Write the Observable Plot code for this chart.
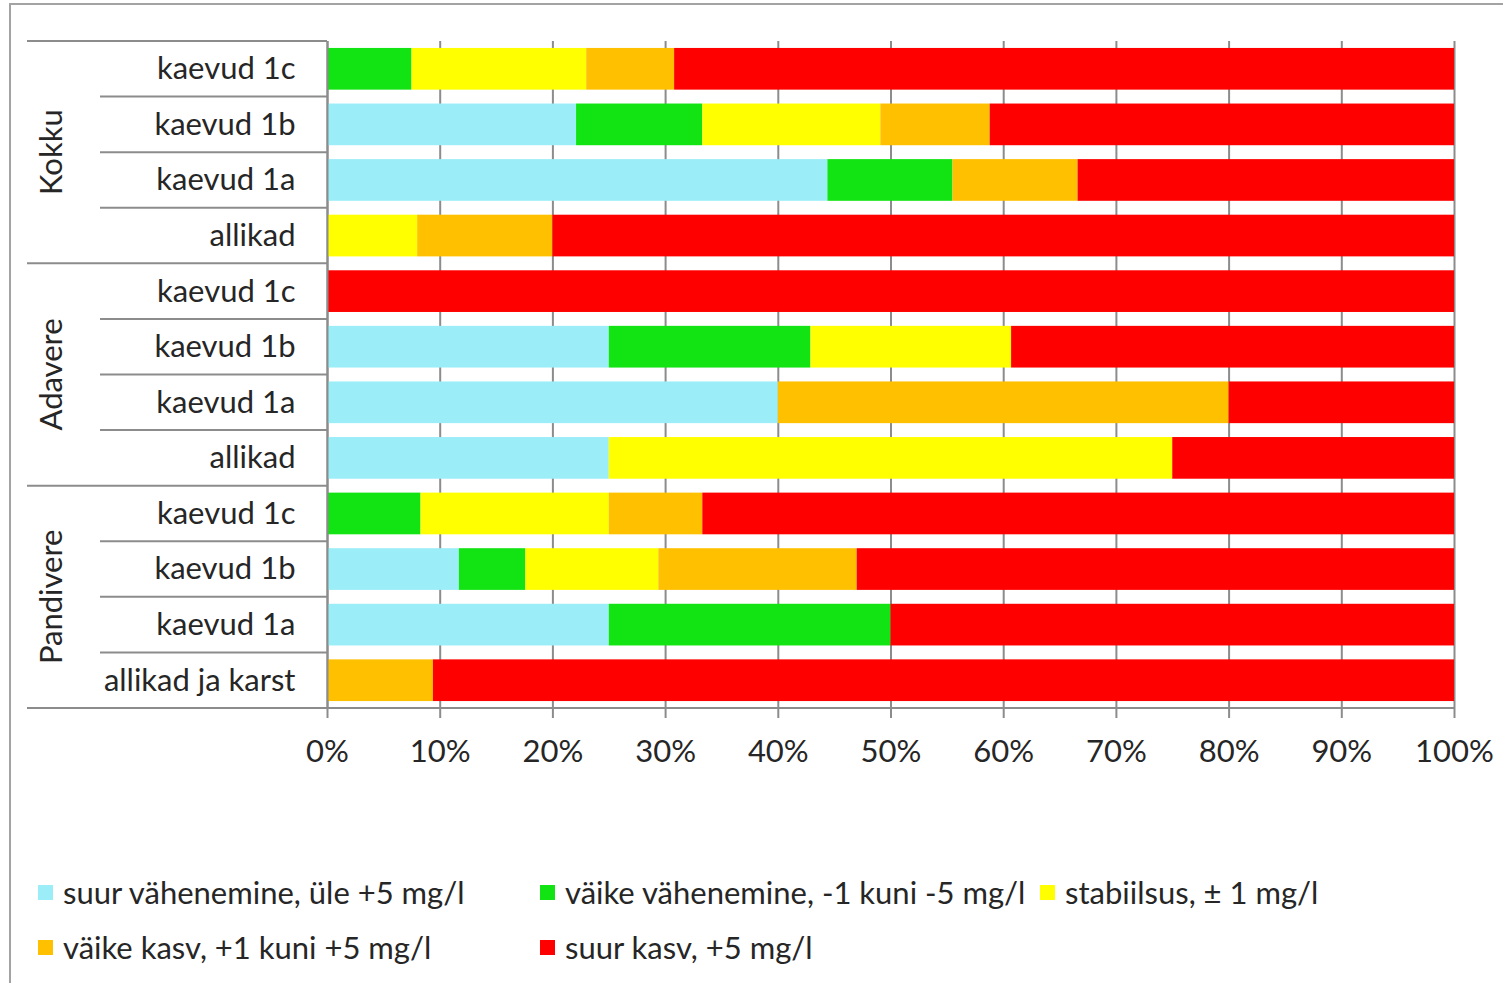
<!DOCTYPE html>
<html>
<head>
<meta charset="utf-8">
<script src="https://cdn.jsdelivr.net/npm/d3@7"></script>
<script src="https://cdn.jsdelivr.net/npm/@observablehq/plot@0.6"></script>
<style>
  html, body { margin: 0; padding: 0; background: #fff; }
  #page { position: relative; width: 1503px; height: 983px; overflow: hidden; font-family: Lato, "Open Sans", sans-serif; color: #262626; }
  #frame { position: absolute; left: 9px; top: 3px; right: -10px; bottom: -10px; border-left: 2px solid #a3a3a3; border-top: 2px solid #a3a3a3; }
  #chart { position: absolute; left: 0; top: 0; }
  #legend { position: absolute; left: 38px; top: 875px; display: grid; grid-template-columns: 502px 500px auto; row-gap: 20px; }
  .item { display: flex; align-items: center; font-size: 31px; line-height: 35px; white-space: nowrap; }
  .sw { width: 15px; height: 15px; margin-right: 10px; flex: none; }
</style>
</head>
<body>
<div id="page">
  <div id="frame"></div>
  <div id="chart"></div>
  <div id="legend"></div>
</div>
<script>
// Category structure: three regions, four source types each
const groups = ["Kokku", "Adavere", "Pandivere"];
const sites = [
  ["kaevud 1c", "kaevud 1b", "kaevud 1a", "allikad"],
  ["kaevud 1c", "kaevud 1b", "kaevud 1a", "allikad"],
  ["kaevud 1c", "kaevud 1b", "kaevud 1a", "allikad ja karst"]
];

// Change classes (legend order = stacking order)
const classes = [
  "suur vähenemine, üle +5 mg/l",
  "väike vähenemine, -1 kuni -5 mg/l",
  "stabiilsus, ± 1 mg/l",
  "väike kasv, +1 kuni +5 mg/l",
  "suur kasv, +5 mg/l"
];
const colors = ["#9beef8", "#12e312", "#ffff00", "#ffc000", "#ff0000"];

// Share of sites (%) per row, rows in order Kokku 1c..allikad, Adavere..., Pandivere...
const suurVahenemine  = [0,    22.1, 44.4, 0,  0,   25.0, 40, 25, 0,    11.7, 25, 0];
const vaikeVahenemine = [7.5,  11.2, 11.1, 0,  0,   17.9, 0,  0,  8.3,  5.9,  25, 0];
const stabiilsus      = [15.5, 15.8, 0,    8,  0,   17.8, 0,  50, 16.7, 11.8, 0,  0];
const vaikeKasv       = [7.8,  9.7,  11.1, 12, 0,   0,    40, 0,  8.3,  17.6, 0,  9.4];
const suurKasv        = [69.2, 41.2, 33.4, 80, 100, 39.3, 20, 25, 66.7, 53.0, 50, 90.6];

const xTicks = [0, 10, 20, 30, 40, 50, 60, 70, 80, 90, 100];

// Build row keys and long-format table
const rowKeys = [];
const rowGroup = [];
groups.forEach((g, gi) => sites[gi].forEach(s => { rowKeys.push(g + "|" + s); rowGroup.push(g); }));
const series = [suurVahenemine, vaikeVahenemine, stabiilsus, vaikeKasv, suurKasv];
const table = [];
rowKeys.forEach((key, i) => {
  series.forEach((vals, c) => table.push({row: key, cls: classes[c], value: vals[i]}));
});

const W = 1503, H = 790;
const lineColor = "#8c8c8c";
const FONT = 31;

const chart = Plot.plot({
  width: W,
  height: H,
  marginLeft: 327,
  marginRight: 49,
  marginTop: 41,
  marginBottom: H - 708,
  style: {fontFamily: "Lato, 'Open Sans', sans-serif", color: "#262626", background: "transparent"},
  x: {domain: [0, 100]},
  y: {domain: rowKeys, paddingInner: 0.25, paddingOuter: 0.125, round: false},
  color: {domain: classes, range: colors},
  marks: [
    Plot.gridX(xTicks, {stroke: lineColor, strokeOpacity: 1, strokeWidth: 2}),
    Plot.barX(table, {y: "row", x: "value", fill: "cls", order: classes}),
    Plot.ruleX([0], {stroke: lineColor, strokeWidth: 2}),
    Plot.axisX({
      ticks: xTicks,
      tickFormat: d => `${d}%`,
      tickSize: 10,
      tickPadding: 21,
      stroke: lineColor,
      strokeWidth: 2,
      fontSize: FONT,
      label: null
    }),
    Plot.axisY({
      tickSize: 0,
      tickPadding: 32,
      tickFormat: d => d.split("|")[1],
      fontSize: FONT,
      label: null
    })
  ]
});
document.getElementById("chart").appendChild(chart);

// Multi-level category axis: row dividers and rotated region labels
const y = chart.scale("y");
const x = chart.scale("x");
const step = y.apply(rowKeys[1]) - y.apply(rowKeys[0]);
const off = (step - y.bandwidth) / 2;
const rowTop = k => y.apply(k) - off;
const axisX0 = x.apply(0);
const svg = d3.select(chart);
const g = svg.append("g").attr("stroke", lineColor).attr("stroke-width", 2);

rowKeys.forEach((k, i) => {
  const first = i === 0 || rowGroup[i] !== rowGroup[i - 1];
  g.append("line")
    .attr("x1", first ? 27 : 100).attr("x2", axisX0)
    .attr("y1", rowTop(k)).attr("y2", rowTop(k));
});
const bottom = rowTop(rowKeys[rowKeys.length - 1]) + step;
g.append("line").attr("x1", 27).attr("x2", x.apply(100)).attr("y1", bottom).attr("y2", bottom);

groups.forEach(gr => {
  const keys = rowKeys.filter((k, i) => rowGroup[i] === gr);
  const cy = (rowTop(keys[0]) + rowTop(keys[keys.length - 1]) + step) / 2;
  svg.append("text")
    .attr("transform", `translate(50,${cy}) rotate(-90)`)
    .attr("text-anchor", "middle")
    .attr("dominant-baseline", "central")
    .attr("font-size", FONT)
    .attr("fill", "#262626")
    .text(gr);
});

// Legend below the plot, three columns
const legend = document.getElementById("legend");
classes.forEach((c, i) => {
  const item = document.createElement("div");
  item.className = "item";
  const sw = document.createElement("span");
  sw.className = "sw";
  sw.style.background = colors[i];
  item.appendChild(sw);
  item.appendChild(document.createTextNode(c));
  legend.appendChild(item);
});
</script>
</body>
</html>
